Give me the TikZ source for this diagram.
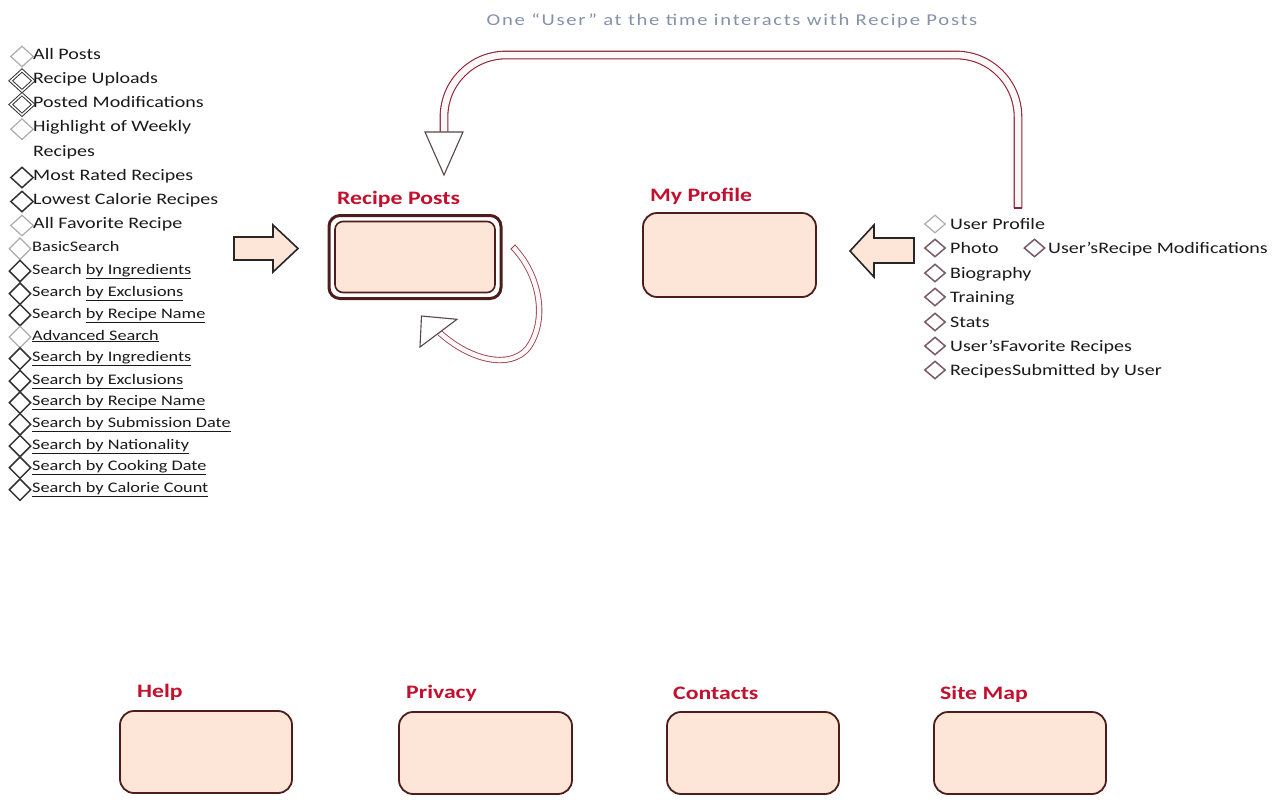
\documentclass[tikz,border=0pt]{standalone}
\usepackage{fontspec}
\setmainfont{Carlito}[FakeStretch=1.25]
\usetikzlibrary{shapes.geometric}
\definecolor{txt}{HTML}{1A1A1A}
\definecolor{ttl}{HTML}{C2102E}
\definecolor{boxline}{HTML}{4E1C1C}
\definecolor{peach}{HTML}{FDE6D8}
\definecolor{arrred}{HTML}{8E2236}
\definecolor{arrin}{HTML}{FFF8F8}
\definecolor{headc}{HTML}{5A4646}
\definecolor{topc}{HTML}{8492AA}
\definecolor{mauve}{HTML}{7A5A68}
\begin{document}
\begin{tikzpicture}[x=1pt,y=-1pt,
  lt/.style={anchor=base west, inner sep=0, font=\fontsize{16}{19}\selectfont, text=txt},
  lb/.style={anchor=base west, inner sep=0, font=\fontsize{14.6}{18}\selectfont, text=txt},
  ttlstyle/.style={anchor=base west, inner sep=0, font=\fontsize{19}{22}\selectfont\bfseries, text=ttl},
  dia/.style={diamond, inner sep=0, minimum width=23, minimum height=21, fill=white, draw=gray!65, line width=1.2},
  diam/.style={dia, draw=gray!40!black, line width=1.5},
  diad/.style={dia, draw=gray!40!black, line width=1, double=white, double distance=1.4},
  dial/.style={dia, minimum width=22, minimum height=22},
  dialm/.style={diam, minimum width=22, minimum height=22},
  diar/.style={dia, minimum width=21, minimum height=18},
  diarm/.style={diar, draw=mauve, line width=1.5},
  box/.style={rounded corners=12, draw=boxline, line width=1.8, fill=peach, inner sep=0},
  blockarrow/.style={draw=black!85, line width=1.6, fill=peach, line join=miter},
  bigshaft/.style={draw=arrred, line width=1.1, double=arrin, double distance=6.5},
  smallshaft/.style={draw=arrred!85, line width=0.9, double=arrin, double distance=4.5},
  headstyle/.style={draw=headc, line width=1.1, fill=white, line join=miter}
]
\useasboundingbox (0,0) rectangle (1283,804);
\fill[white] (0,0) rectangle (1283,804);

% top caption
\node[anchor=base, inner sep=0, font=\fontsize{16.5}{19}\selectfont\addfontfeature{LetterSpace=10.5}, text=topc] (cap) at (732,25) {One ``User'' at the time interacts with Recipe Posts};

% boxes
\node[box, rounded corners=11, line width=3, fill=white, minimum width=172, minimum height=83] (rp) at (415,257) {};
\node[box, rounded corners=8, line width=1.6, minimum width=160, minimum height=71] (rpin) at (415,257) {};
\node[ttlstyle] (rpt) at (337,204) {Recipe Posts};

\node[box, rounded corners=14, minimum width=173, minimum height=84] (mp) at (729.5,255) {};
\node[ttlstyle] (mpt) at (650,201) {My Profile};

\node[box, rounded corners=14, minimum width=172, minimum height=82] (help) at (206,752) {};
\node[ttlstyle] (helpt) at (137,697) {Help};
\node[box, rounded corners=14, minimum width=173, minimum height=82] (priv) at (485.5,753) {};
\node[ttlstyle] (privt) at (406,698) {Privacy};
\node[box, rounded corners=14, minimum width=172, minimum height=82] (cont) at (753,753) {};
\node[ttlstyle] (contt) at (673,699) {Contacts};
\node[box, rounded corners=14, minimum width=172, minimum height=82] (smap) at (1020,753) {};
\node[ttlstyle] (smapt) at (940,699) {Site Map};

% left list, upper part
\node[dia]  (dA) at (22,56.5) {};  \node[lt] (tA) at (33,59) {All Posts};
\node[diad] (dB) at (22,80.8) {};  \node[lt] (tB) at (33,83.3) {Recipe Uploads};
\node[diad] (dC) at (22,104.5) {}; \node[lt] (tC) at (33,107) {Posted Modifications};
\node[dia]  (dD) at (22,129.2) {}; \node[lt] (tD) at (33,131.7) {Highlight of Weekly};
\node[lt] (tE) at (33,156.7) {Recipes};
\node[diam] (dF) at (22,177.5) {}; \node[lt] (tF) at (33,180) {Most Rated Recipes};
\node[diam] (dG) at (22,201.5) {}; \node[lt] (tG) at (33,204) {Lowest Calorie Recipes};
\node[dia]  (dH) at (22,225.5) {}; \node[lt] (tH) at (33,228) {All Favorite Recipe};

% left list, lower part
\node[dial]  (dI) at (20,248.7) {}; \node[lb] (tI) at (32,251.7) {BasicSearch};
\node[dialm] (dJ) at (20,271) {};   \node[lb] (tJ) at (32,274) {Search \underline{by Ingredients}};
\node[dialm] (dK) at (20,293.7) {}; \node[lb] (tK) at (32,296.7) {Search \underline{by Exclusions}};
\node[dialm] (dL) at (20,315) {};   \node[lb] (tL) at (32,318) {Search \underline{by Recipe Name}};
\node[dial]  (dM) at (20,337) {};   \node[lb] (tM) at (32,340) {\underline{Advanced Search}};
\node[dialm] (dN) at (20,358.7) {}; \node[lb] (tN) at (32,361.7) {\underline{Search by Ingredients}};
\node[dialm] (dO) at (20,381) {};   \node[lb] (tO) at (32,384) {\underline{Search by Exclusions}};
\node[dialm] (dP) at (20,402.7) {}; \node[lb] (tP) at (32,405.7) {\underline{Search by Recipe Name}};
\node[dialm] (dQ) at (20,424.3) {}; \node[lb] (tQ) at (32,427.3) {\underline{Search by Submission Date}};
\node[dialm] (dR) at (20,446) {};   \node[lb] (tR) at (32,449) {\underline{Search by Nationality}};
\node[dialm] (dS) at (20,467.7) {}; \node[lb] (tS) at (32,470.7) {\underline{Search by Cooking Date}};
\node[dialm] (dT) at (20,489.7) {}; \node[lb] (tT) at (32,492.7) {\underline{Search by Calorie Count}};

% right list
\node[diar]  (ra) at (935,224) {}; \node[lt] (ua) at (950,229) {User Profile};
\node[diarm] (rb) at (935,248) {}; \node[lt] (ub) at (950,253) {Photo};
\node[diarm] (rh) at (1034.5,248) {}; \node[lt] (uh) at (1048,253) {User'sRecipe Modifications};
\node[diarm] (rc) at (935,273) {}; \node[lt] (uc) at (950,278) {Biography};
\node[diarm] (rd) at (935,297) {}; \node[lt] (ud) at (950,302) {Training};
\node[diarm] (re) at (935,322) {}; \node[lt] (ue) at (950,327) {Stats};
\node[diarm] (rf) at (935,346) {}; \node[lt] (uf) at (950,351) {User'sFavorite Recipes};
\node[diarm] (rg) at (935,370) {}; \node[lt] (ug) at (950,375) {RecipesSubmitted by User};

% block arrow: left list -> Recipe Posts
\coordinate (la) at (234,248.5);
\draw[blockarrow] (la) ++(0,-11.5) -- ++(39,0) -- ++(0,-12) -- (298,248.5) -- (273,272) -- ++(0,-12) -- ++(-39,0) -- cycle;

% block arrow: right list -> My Profile
\coordinate (ra0) at (914,250.5);
\draw[blockarrow] (ra0) ++(0,-12.5) -- ++(-40,0) -- ++(0,-13) -- (850,251) -- (874,277) -- ++(0,-14) -- ++(40,0) -- cycle;

% big loop arrow: right list -> Recipe Posts
\coordinate (bs) at (1018,208);
\coordinate (be) at (444,132);
\draw[bigshaft, rounded corners=62] (bs) -- (1018,55) -- (444,55) -- (be);
\draw[draw=arrred, line width=1.1] (1013.6,208) -- (1022.4,208);
\draw[headstyle] (425,132) -- (463,132) -- (444,175) -- cycle;

% self loop on Recipe Posts
\coordinate (ss) at (513,247);
\coordinate (se) at (440,333);
\draw[smallshaft] (ss) .. controls (540,275) and (548,320) .. (528,348) .. controls (510,370) and (470,360) .. (se);
\draw[draw=arrred!85, line width=0.9] (510.6,249.3) -- (515.4,244.7);
\draw[headstyle] (421.5,316) -- (457,319.3) -- (420,347) -- cycle;
\end{tikzpicture}
\end{document}
